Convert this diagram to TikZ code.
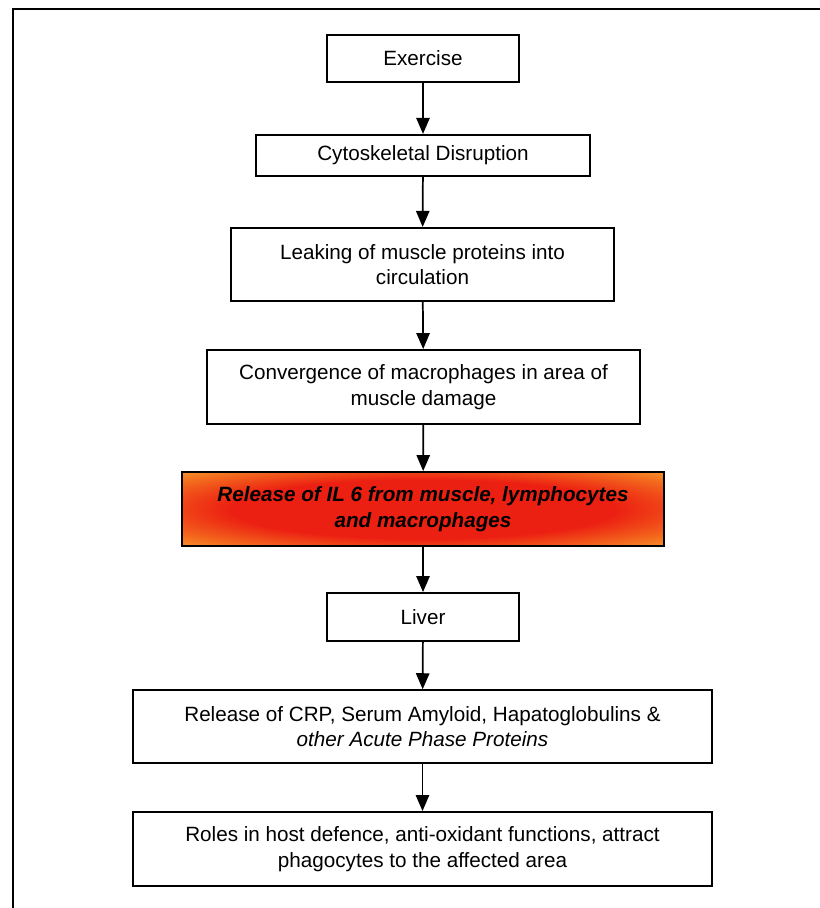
\documentclass[tikz,border=0pt]{standalone}
\usepackage{fontspec}
\setmainfont{Liberation Sans}
\usepackage{tikz}
\usetikzlibrary{arrows.meta}

\definecolor{ilred}{RGB}{236,32,18}
\definecolor{ilorange}{RGB}{244,110,30}
\definecolor{ilyellow}{RGB}{246,165,55}
\pgfdeclareradialshading{ilglow}{\pgfpoint{0bp}{0bp}}{color(0bp)=(ilred); color(20bp)=(ilred); color(31bp)=(ilorange); color(38bp)=(ilyellow); color(50bp)=(ilyellow)}

\begin{document}
\begin{tikzpicture}
  [x=0.75pt,y=-0.75pt,->,>={Triangle[width=10pt,length=12pt]},line width=1.3pt,
   every node/.style={align=center,font=\fontsize{15.5}{19}\selectfont}]
  \tikzstyle{flowbox}=[rectangle,draw,line width=1.4pt,inner sep=0pt]
  \tikzstyle{hotbox}=[flowbox,shade,shading=ilglow,font=\fontsize{15.5}{19}\selectfont\bfseries\itshape]
  \useasboundingbox (0,0) rectangle (820,908);
  \draw[-, line width=1.4pt] (13,908) -- (13,9) -- (820,9);

  \node[flowbox, minimum width=144pt, minimum height=35pt] (ex) at (423,58.5) {Exercise};
  \node[flowbox, minimum width=250.5pt, minimum height=31pt] (cyto) at (423,155.5) {Cytoskeletal Disruption};
  \node[flowbox, minimum width=287pt, minimum height=55pt] (leak) at (422.5,264.5) {Leaking of muscle proteins into \\ circulation};
  \node[flowbox, minimum width=325pt, minimum height=55.5pt] (conv) at (423.5,387) {Convergence of macrophages in area of \\ muscle damage};
  \node[hotbox, minimum width=361.5pt, minimum height=55.5pt] (il6) at (423,509) {Release of IL 6 from muscle, lymphocytes \\ and macrophages};
  \node[flowbox, minimum width=144pt, minimum height=36pt] (liver) at (423,617) {Liver};
  \node[flowbox, minimum width=434pt, minimum height=54.5pt] (crp) at (422.5,726.5) {Release of CRP, Serum Amyloid, Hapatoglobulins \& \\ \textit{other Acute Phase Proteins}};
  \node[flowbox, minimum width=434pt, minimum height=55.5pt] (roles) at (422.5,849) {Roles in host defence, anti-oxidant functions, attract \\ phagocytes to the affected area};

  \path (ex) edge (cyto);
  \path (cyto) edge (leak);
  \path (leak) edge (conv);
  \path (conv) edge (il6);
  \path (il6) edge (liver);
  \path (liver) edge (crp);
  \path (crp) edge (roles);

\end{tikzpicture}
\end{document}
